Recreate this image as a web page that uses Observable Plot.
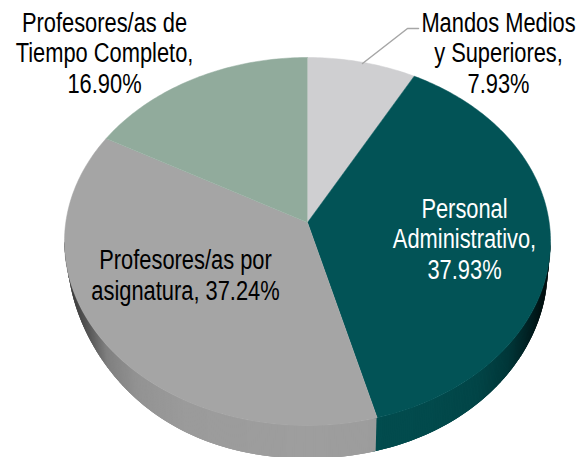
<!DOCTYPE html>
<html><head><meta charset="utf-8">
<script src="https://cdn.jsdelivr.net/npm/d3@7"></script>
<script src="https://cdn.jsdelivr.net/npm/@observablehq/plot@0.6"></script>
<style>html,body{margin:0;padding:0;background:#fff}</style>
</head><body><div id="chart"></div>
<script>
const categories = ["Mandos Medios y Superiores","Personal Administrativo","Profesores/as por asignatura","Profesores/as de Tiempo Completo"];
const shares = [7.93,37.93,37.24,16.90];
const topColors = ["#cfcfd1","#025356","#a5a5a5","#91ab9c"];
const labels = ["Mandos Medios\ny Superiores,\n7.93%","Personal\nAdministrativo,\n37.93%","Profesores/as por\nasignatura, 37.24%","Profesores/as de\nTiempo Completo,\n16.90%"];
const labelX = [498,464,185,104];
const labelY = [52,238,274,52];
const labelColors = ["#000","#fff","#000","#000"];
const leaderX = [362,407,418];
const leaderY = [63,28,28];
// wall shading against distance from the pie's front centre
const shadeAt = [0,0.5,0.7,0.83,0.9,1];
const tealShade = ["#024e50","#024a4c","#024547","#013739","#012527","#000a0a"];
const grayShade = ["#9e9e9e","#9b9b9b","#939393","#808080","#5a5a5a","#333333"];

// pie geometry in plot units
const cx=307, cy=241, rx=243, ry=184;
const apexX=307, apexY=222, aspect=1.34;
const bx=307, by=278, brx=240, bry=180;

function rim(theta){ // ray from the apex at pie angle theta, meeting the top ellipse
  const dx=aspect*Math.sin(theta), dy=-Math.cos(theta);
  const ox=(apexX-cx)/rx, oy=(apexY-cy)/ry, ux=dx/rx, uy=dy/ry;
  const A=ux*ux+uy*uy, B=2*(ox*ux+oy*uy), C=ox*ox+oy*oy-1;
  const t=(-B+Math.sqrt(B*B-4*A*C))/(2*A);
  return [apexX+t*dx, apexY+t*dy];
}
const cum=[0]; shares.forEach(s=>cum.push(cum[cum.length-1]+s));
const total=cum[cum.length-1];
const angle=p=>p/total*2*Math.PI;

const slices=[];
categories.forEach((c,i)=>{
  const a0=angle(cum[i]), a1=angle(cum[i+1]);
  const n=Math.ceil(shares[i]*4);
  slices.push({c,color:topColors[i],x:apexX,y:apexY});
  for(let k=0;k<=n;k++){ const [x,y]=rim(a0+(a1-a0)*k/n); slices.push({c,color:topColors[i],x,y}); }
});

// side wall: narrow overlapping strips along the front rim
const bound=rim(angle(cum[2]));
const phiBound=Math.atan2((bound[1]-cy)/ry,(bound[0]-cx)/rx);
const teal=d3.scaleLinear(shadeAt,tealShade), gray=d3.scaleLinear(shadeAt,grayShade);
const outer=p=>{
  const c=Math.cos(p), lift=(c<0?22:8)*Math.pow(Math.abs(c),4);
  return [bx+brx*c, by+bry*Math.sin(p)-lift];
};
const wall=[];
for(let d=0;d<180;d+=0.5){
  const p0=d*Math.PI/180, p1=Math.min(d+1.5,180)*Math.PI/180, m=p0+Math.PI/720;
  const color=(m<phiBound?teal:gray)(Math.abs(Math.cos(m)));
  const id="s"+d;
  [[cx+rx*Math.cos(p0),cy+ry*Math.sin(p0)],[cx+rx*Math.cos(p1),cy+ry*Math.sin(p1)],outer(p1),outer(p0)]
   .forEach(([x,y])=>wall.push({id,color,x,y}));
}
const leader=leaderX.map((x,i)=>({x,y:leaderY[i]}));
const labelRows=labels.map((t,i)=>({t,x:labelX[i],y:labelY[i],color:labelColors[i]}));

const chart=Plot.plot({
  width:578,height:457,margin:0,
  x:{domain:[0,578],range:[0,578],axis:null},
  y:{domain:[0,457],range:[0,457],axis:null},
  color:{type:"identity"},
  style:{background:"#fff",overflow:"hidden"},
  marks:[
    Plot.line(wall,{x:"x",y:"y",z:"id",fill:"color",stroke:"none",curve:"linear"}),
    Plot.line(slices,{x:"x",y:"y",z:"c",fill:"color",stroke:"color",strokeWidth:0.5,curve:"linear"}),
    Plot.line(leader,{x:"x",y:"y",stroke:"#a6a6a6",strokeWidth:1.5,curve:"linear"}),
    Plot.text(labelRows,{x:"x",y:"y",text:"t",fill:"color",fontSize:27,lineHeight:1.13,fontFamily:"'Liberation Sans',Arial,sans-serif",textAnchor:"middle"})
  ]
});
// narrow the type, as the original's condensed face is not available
chart.querySelectorAll("text").forEach(t=>{
  if(t.getAttribute("transform")) t.setAttribute("transform",t.getAttribute("transform")+" scale(0.81,1)");
});
document.getElementById("chart").appendChild(chart);
</script></body></html>
